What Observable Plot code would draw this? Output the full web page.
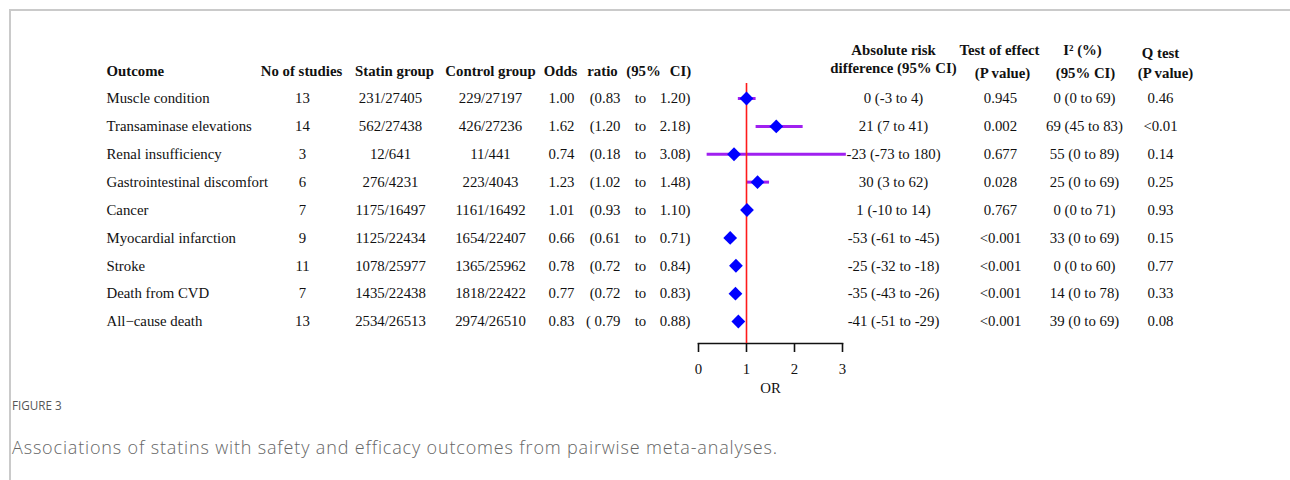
<!DOCTYPE html>
<html><head><meta charset="utf-8">
<script src="https://cdn.jsdelivr.net/npm/d3@7"></script>
<script src="https://cdn.jsdelivr.net/npm/@observablehq/plot@0.6"></script>
<style>
html,body{margin:0;padding:0;background:#fff;}
body{width:1290px;height:480px;overflow:hidden;position:relative;}
#frame{position:absolute;left:9px;top:9px;width:1300px;height:500px;border-top:2px solid #cacaca;border-left:2px solid #cacaca;}
#chart{position:absolute;left:0;top:0;}
#fig{position:absolute;left:12px;top:397px;font-family:"Open Sans";font-size:11.7px;color:#555;}
#cap{position:absolute;left:12px;top:435px;font-family:"Open Sans";font-weight:300;font-size:18px;letter-spacing:0.84px;color:#666;white-space:nowrap;}
</style></head><body>
<div id="frame"></div><div id="chart"></div>
<div id="fig">FIGURE 3</div>
<div id="cap">Associations of statins with safety and efficacy outcomes from pairwise meta-analyses.</div>
<script>
const outcomes = ["Muscle condition","Transaminase elevations","Renal insufficiency","Gastrointestinal discomfort","Cancer","Myocardial infarction","Stroke","Death from CVD","All\u2212cause death"];
const studies = [13,14,3,6,7,9,11,7,13];
const statin = ["231/27405","562/27438","12/641","276/4231","1175/16497","1125/22434","1078/25977","1435/22438","2534/26513"];
const control = ["229/27197","426/27236","11/441","223/4043","1161/16492","1654/22407","1365/25962","1818/22422","2974/26510"];
const orVal = [1.00,1.62,0.74,1.23,1.01,0.66,0.78,0.77,0.83];
const ciLow = [0.83,1.20,0.18,1.02,0.93,0.61,0.72,0.72,0.79];
const ciHigh = [1.20,2.18,3.08,1.48,1.10,0.71,0.84,0.83,0.88];
const ciLowText = ["(0.83","(1.20","(0.18","(1.02","(0.93","(0.61","(0.72","(0.72","( 0.79"];
const ard = ["0 (-3 to 4)","21 (7 to 41)","-23 (-73 to 180)","30 (3 to 62)","1 (-10 to 14)","-53 (-61 to -45)","-25 (-32 to -18)","-35 (-43 to -26)","-41 (-51 to -29)"];
const pEffect = ["0.945","0.002","0.677","0.028","0.767","<0.001","<0.001","<0.001","<0.001"];
const i2 = ["0 (0 to 69)","69 (45 to 83)","55 (0 to 89)","25 (0 to 69)","0 (0 to 71)","33 (0 to 69)","0 (0 to 60)","14 (0 to 78)","39 (0 to 69)"];
const qTest = ["0.46","<0.01","0.14","0.25","0.93","0.15","0.77","0.33","0.08"];
const xTicks = [0,1,2,3];
const xLabel = "OR";
const headOutcome = "Outcome", headStudies = "No of studies", headStatin = "Statin group", headControl = "Control group";
const headOR = ["Odds","ratio","(95%","CI)"];
const headARD = ["Absolute risk","difference (95% CI)"];
const headP = ["Test of effect","(P value)"];
const headI2 = ["I\u00b2 (%)","(95% CI)"];
const headQ = ["Q test","(P value)"];

const rows = outcomes.map((o,i)=>({outcome:o, studies:studies[i], statin:statin[i], control:control[i], or:orVal[i], lo:ciLow[i], hi:ciHigh[i], loText:ciLowText[i], hiText:ciHigh[i].toFixed(2)+")", ard:ard[i], p:pEffect[i], i2:i2[i], q:qTest[i]}));

const L = 698, T = 83; // frame left / top in px
const col = (field, x, anchor="middle") => Plot.text(rows, {y:"outcome", text:field, frameAnchor:"left", dx:x-L, textAnchor:anchor, lineAnchor:"middle", fill:"#111"});
const head = (label, x, y, anchor="middle") => Plot.text([label], {text:d=>d, frameAnchor:"top-left", dx:x-L, dy:y-T, textAnchor:anchor, lineAnchor:"middle", fontWeight:"bold", fill:"#111"});

const chart = Plot.plot({
  width:1290, height:400,
  marginLeft:L, marginRight:1290-842, marginTop:T, marginBottom:400-343,
  style:{fontFamily:"'Liberation Serif', 'Times New Roman', serif", fontSize:"14.8px", color:"#111", background:"transparent"},
  x:{domain:[0,3]},
  y:{type:"point", domain:outcomes, padding:0, round:false, insetTop:15, insetBottom:22, axis:null},
  marks:[
    Plot.frame({anchor:"bottom", stroke:"#111", strokeWidth:1.6}),
    Plot.axisX({ticks:xTicks, tickFormat:d=>String(d), tickSize:9, tickPadding:11, strokeWidth:1.6, stroke:"#111", fill:"#111", label:xLabel, labelAnchor:"center", labelArrow:"none", labelOffset:49}),
    Plot.ruleY(rows, {y:"outcome", x1:"lo", x2:"hi", stroke:"#a020f0", strokeWidth:3}),
    Plot.ruleX([1], {stroke:"#ff1a1a", strokeWidth:1.6}),
    Plot.dot(rows, {x:"or", y:"outcome", symbol:"diamond2", r:6.2, fill:"#0000ff", stroke:"none"}),
    col("outcome", 106, "start"),
    col("studies", 302),
    col("statin", 390),
    col("control", 490),
    col(d=>d.or.toFixed(2), 561),
    col("loText", 620, "end"),
    col(()=> "to", 640),
    col("hiText", 690, "end"),
    col("ard", 893),
    col("p", 1000),
    col("i2", 1084),
    col("q", 1160),
    head(headOutcome, 106, 71, "start"),
    head(headStudies, 301, 71),
    head(headStatin, 394, 71),
    head(headControl, 490, 71),
    head(headOR[0], 560, 71), head(headOR[1], 602, 71), head(headOR[2], 643, 71), head(headOR[3], 680, 71),
    head(headARD[0], 893, 50), head(headARD[1], 893, 68),
    head(headP[0], 999, 50), head(headP[1], 1002, 73),
    head(headI2[0], 1082, 50), head(headI2[1], 1085, 73),
    head(headQ[0], 1160, 53), head(headQ[1], 1165, 73)
  ]
});
document.getElementById("chart").appendChild(chart);
</script>
</body></html>
